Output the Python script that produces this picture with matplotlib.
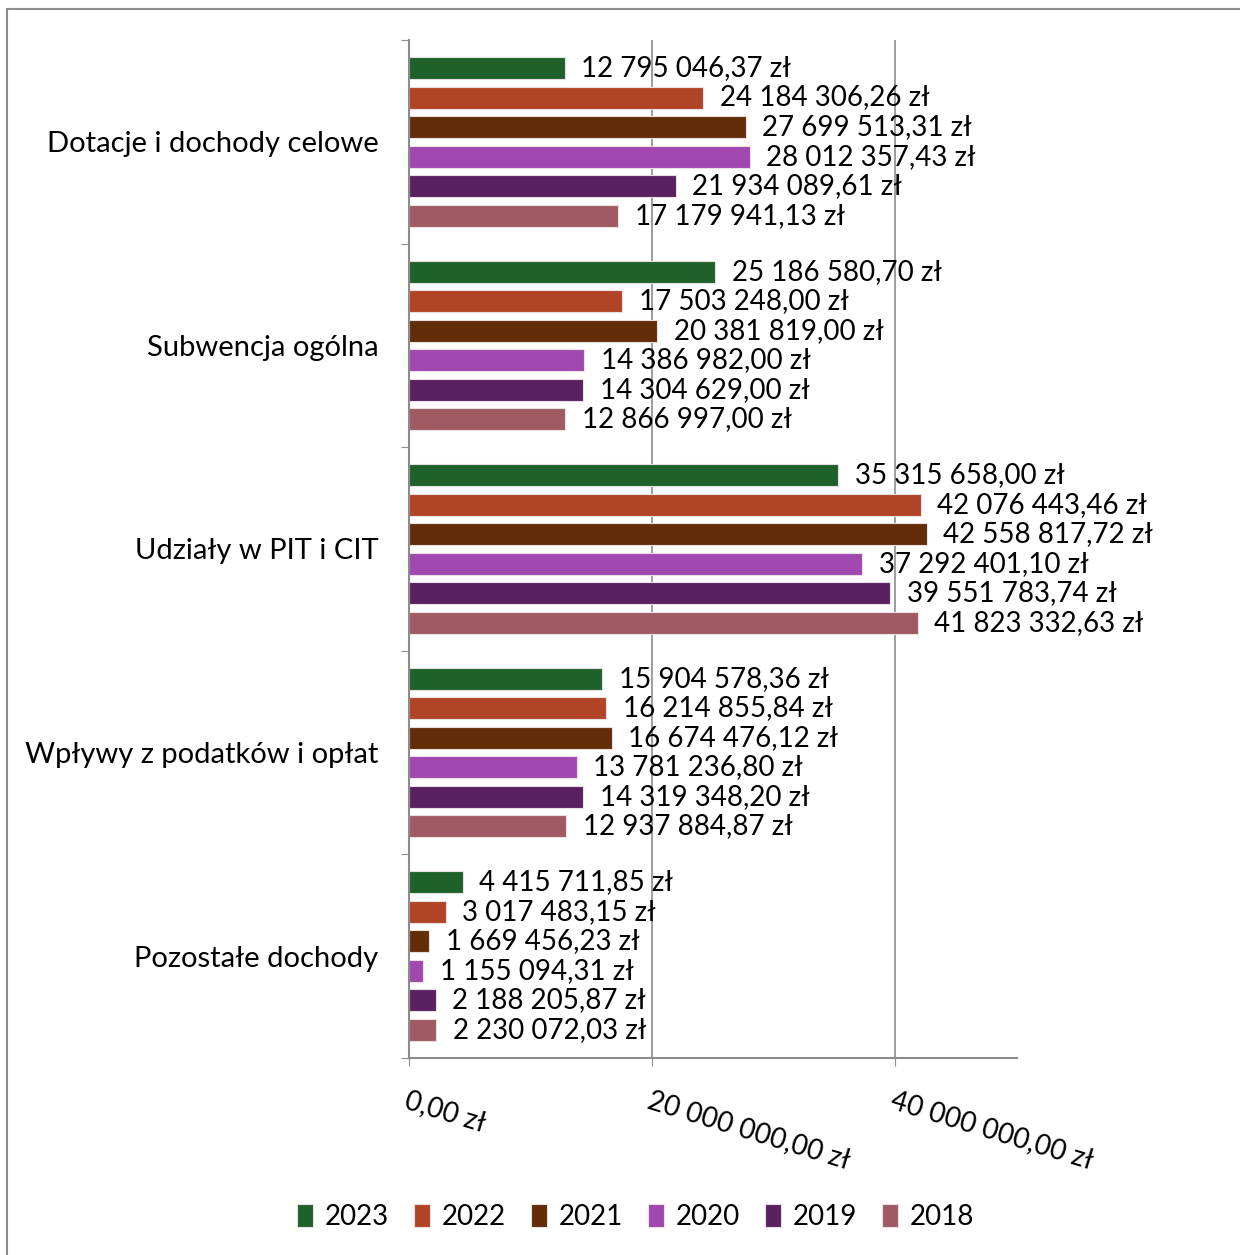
import matplotlib.pyplot as plt
from matplotlib.patches import Rectangle
import numpy as np

categories = ['Dotacje i dochody celowe', 'Subwencja ogólna', 'Udziały w PIT i CIT',
              'Wpływy z podatków i opłat', 'Pozostałe dochody']
years = ['2023', '2022', '2021', '2020', '2019', '2018']
values = {
    '2023': [12795046.37, 25186580.70, 35315658.00, 15904578.36, 4415711.85],
    '2022': [24184306.26, 17503248.00, 42076443.46, 16214855.84, 3017483.15],
    '2021': [27699513.31, 20381819.00, 42558817.72, 16674476.12, 1669456.23],
    '2020': [28012357.43, 14386982.00, 37292401.10, 13781236.80, 1155094.31],
    '2019': [21934089.61, 14304629.00, 39551783.74, 14319348.20, 2188205.87],
    '2018': [17179941.13, 12866997.00, 41823332.63, 12937884.87, 2230072.03],
}
colors = ['#1E612A', '#B04426', '#632D08', '#A047B0', '#5A2160', '#A05A64']
xticks = [0, 20000000, 40000000]
xmax = 50000000

plt.rcParams['font.family'] = ['Lato', 'DejaVu Sans']
FS = 20


def pln(v):
    whole, frac = f'{v:,.2f}'.split('.')
    return whole.replace(',', ' ') + ',' + frac + ' zł'


fig = plt.figure(figsize=(12.4, 12.55), dpi=100)
fig.patches.append(Rectangle((7 / 1240, -0.1), 1.2, 1 - 9 / 1255 + 0.1,
                             transform=fig.transFigure, fill=False,
                             edgecolor='#8c8c8c', linewidth=1.5))
ax = fig.add_axes([409 / 1240, 1 - 1058 / 1255, 608 / 1240, 1018 / 1255])

pos = np.arange(len(categories))
step = 0.145
for i, y in enumerate(years):
    ys = pos + (i - 2.5) * step
    ax.barh(ys, values[y], height=0.108, color=colors[i],
            edgecolor='#e8e0e0', linewidth=0.8, label=y, zorder=2)
    for yy, v in zip(ys, values[y]):
        ax.annotate(pln(v), (v, yy), xytext=(12, 0), textcoords='offset points',
                    va='center', ha='left', fontsize=FS, zorder=3)

ax.set_xlim(0, xmax)
ax.set_ylim(len(categories) - 0.5, -0.5)

ax.set_xticks(xticks)
ax.set_xticklabels([pln(t) for t in xticks], rotation=-17, rotation_mode='anchor',
                   ha='left', va='top', fontsize=FS)
ax.tick_params(axis='x', length=6, color='#8c8c8c', pad=15)
ax.xaxis.grid(True, color='#8c8c8c', linewidth=1.2, zorder=0)

ax.set_yticks(np.arange(len(categories) + 1) - 0.5)
ax.set_yticklabels([])
ax.set_yticks(pos, minor=True)
ax.set_yticklabels(categories, minor=True, fontsize=21)
ax.tick_params(axis='y', which='major', length=6, color='#8c8c8c')
ax.tick_params(axis='y', which='minor', length=0, pad=22)

for s in ['top', 'right']:
    ax.spines[s].set_visible(False)
for s in ['left', 'bottom']:
    ax.spines[s].set_color('#8c8c8c')
    ax.spines[s].set_linewidth(1.5)
ax.set_axisbelow(True)

fig.legend(loc='center', bbox_to_anchor=(636 / 1240, 1 - 1217 / 1255), ncol=6,
           frameon=False, fontsize=FS, handlelength=0.55, handleheight=0.9,
           handletextpad=0.45, columnspacing=0.9)

fig.savefig('out.png', dpi=100)
